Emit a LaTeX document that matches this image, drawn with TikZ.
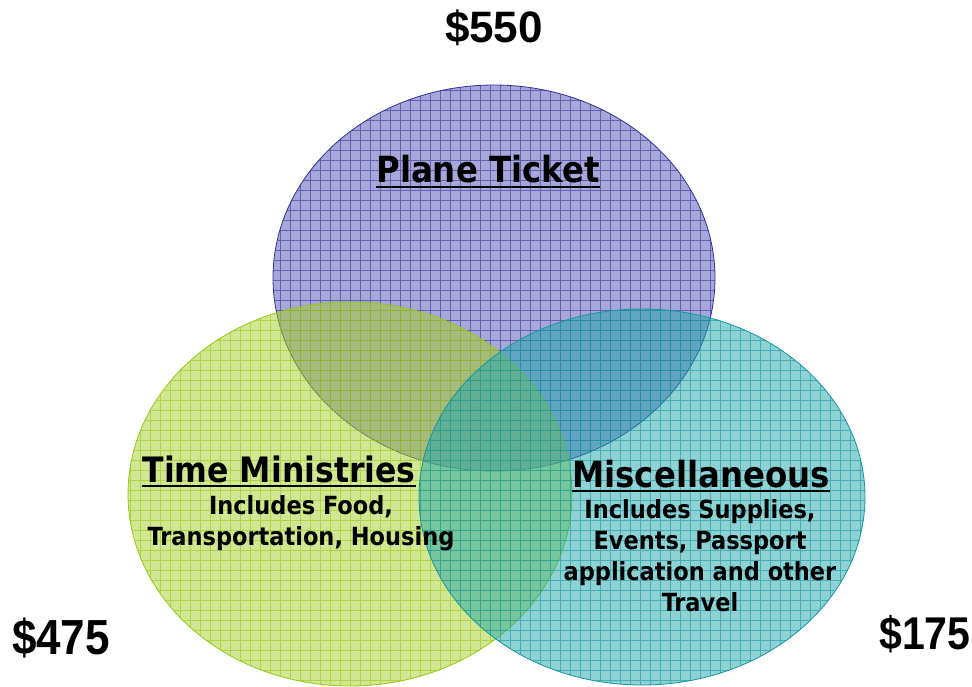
\documentclass[tikz,border=0pt]{standalone}
\usepackage{fontspec}
\newfontfamily\tfont{DejaVu Sans Condensed Bold}
\newfontfamily\dfont{Liberation Sans}
\begin{document}
\begin{tikzpicture}[x=1pt,y=-1pt]
\definecolor{bfill}{RGB}{80,80,180}
\definecolor{bline}{RGB}{50,50,150}
\definecolor{gfill}{RGB}{165,208,40}
\definecolor{gline}{RGB}{150,200,20}
\definecolor{tfill}{RGB}{30,165,170}
\definecolor{tline}{RGB}{20,150,160}
\tikzset{
  title/.style={inner sep=0pt, anchor=base, font=\tfont\fontsize{36}{40}\selectfont},
  sub/.style={inner sep=0pt, anchor=north, align=center, font=\tfont\fontsize{25}{31}\selectfont},
  money/.style={inner sep=0pt, anchor=base, font=\dfont\bfseries\fontsize{44}{48}\selectfont},
  ul/.style={line width=2.2pt, black},
  gridb/.style={line width=0.7pt, draw opacity=0.6},
}
\useasboundingbox (0,0) rectangle (972,686);
% blue
\fill[bfill, fill opacity=0.5] (494,278) ellipse [x radius=221, y radius=193];
\begin{scope}
\clip (494,278) ellipse [x radius=221, y radius=193];
\draw[gridb, bline, step=10pt] (270,80) grid (720,480);
\end{scope}
\draw[bline, line width=0.8pt] (494,278) ellipse [x radius=221, y radius=193];
% green
\fill[gfill, fill opacity=0.5] (350,494) ellipse [x radius=222, y radius=192];
\begin{scope}
\clip (350,494) ellipse [x radius=222, y radius=192];
\draw[gridb, gline, step=10pt] (120,300) grid (580,690);
\end{scope}
\draw[gline, line width=0.8pt] (350,494) ellipse [x radius=222, y radius=192];
% teal
\fill[tfill, fill opacity=0.5] (642,497) ellipse [x radius=223, y radius=188];
\begin{scope}
\clip (642,497) ellipse [x radius=223, y radius=188];
\draw[gridb, tline, step=10pt] (410,300) grid (870,690);
\end{scope}
\draw[tline, line width=0.8pt] (642,497) ellipse [x radius=223, y radius=188];
% texts
\node[title] (pt) at (488,182) {Plane Ticket};
\draw[ul] ([yshift=-5pt]pt.base west) -- ([yshift=-5pt]pt.base east);
\node[title, font=\tfont\fontsize{35}{40}\selectfont] (tm) at (279,482) {Time Ministries};
\draw[ul] ([yshift=-4pt]tm.base west) -- ([yshift=-4pt]tm.base east);
\node[title] (mi) at (701,487) {Miscellaneous};
\draw[ul] ([yshift=-4pt]mi.base west) -- ([yshift=-4pt]mi.base east);
\node[sub] (tms) at (301,495) {Includes Food,\\Transportation, Housing};
\node[sub] (mis) at (700,499) {Includes Supplies,\\Events, Passport\\application and other\\Travel};
\node[money] (m1) at (494,42) {\$550};
\node[money, yscale=1.12] (m2) at (61,654) {\$475};
\node[money, yscale=1.12, font=\dfont\bfseries\fontsize{41}{48}\selectfont] (m3) at (925,649) {\$175};
\end{tikzpicture}
\end{document}
